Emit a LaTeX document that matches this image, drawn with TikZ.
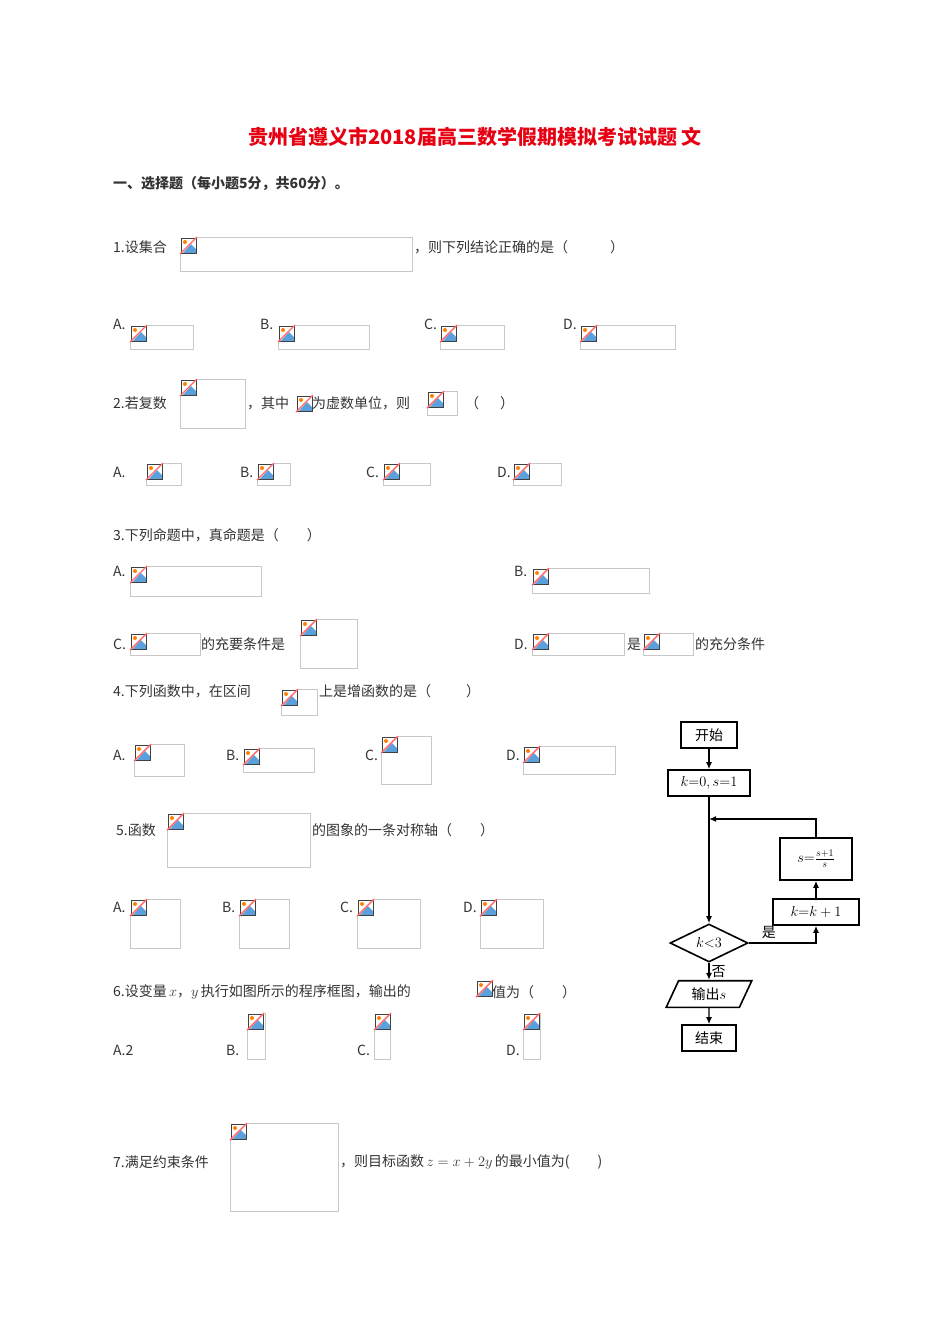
\documentclass[tikz,border=0pt]{standalone}
\usepackage{fontspec}
\setmainfont{Noto Sans CJK SC}
\usetikzlibrary{shapes.geometric,arrows.meta}
\definecolor{tred}{RGB}{230,0,18}
\definecolor{fr}{RGB}{200,200,200}
\definecolor{ib}{RGB}{90,160,220}
\newcommand{\icon}[2]{%
 \fill[white] (#1,#2) rectangle ++(17,17);
 \fill[ib] (#1+3,#2+16) -- (#1+11,#2+7) -- (#1+16,#2+12) -- (#1+16,#2+16) -- cycle;
 \fill[orange] (#1+5,#2+5) circle (2);
 \draw[black!75,line width=1] (#1+1,#2+1) rectangle ++(15,15);
 \draw[red!60,line width=1.4] (#1,#2+17) -- (#1+17,#2);}
\newcommand{\img}[4]{\draw[fr,line width=0.8] (#1,#2) rectangle (#3,#4); \icon{#1}{#2}}
\begin{document}
\begin{tikzpicture}[x=1pt,y=-1pt,
 t/.style={anchor=west,inner sep=0,font=\fontsize{14}{14}\selectfont,text=black!80},
 fb/.style={draw,line width=1.6,minimum height=26,inner sep=3,font=\fontsize{14}{14}\selectfont},
 ar/.style={line width=1.4,-{Latex[length=7,width=6]}}]
\useasboundingbox (0,0) rectangle (950,1344);
\node[font=\fontsize{20}{20}\selectfont\bfseries,text=tred] (title) at (475,137) {贵州省遵义市2018届高三数学假期模拟考试试题\ 文};
\node[t,font=\fontsize{14}{14}\selectfont\bfseries] (sec) at (113,184) {一、选择题（每小题5分，共60分）。};
% Q1
\node[t] (q1) at (113,247) {1.设集合};
\img{180}{237}{412}{271}
\node[t] (q1b) at (414,247) {，则下列结论正确的是（\hspace{3em}）};
\node[t] (q1A) at (113,324) {A.}; \img{130}{325}{193}{349}
\node[t] (q1B) at (260,324) {B.}; \img{278}{325}{369}{349}
\node[t] (q1C) at (424,324) {C.}; \img{440}{325}{504}{349}
\node[t] (q1D) at (563,324) {D.}; \img{580}{325}{675}{349}
% Q2
\node[t] (q2) at (113,403) {2.若复数};
\img{180}{379}{245}{428}
\node[t] (q2b) at (247,403) {，其中};
\icon{296}{395}
\node[t] (q2c) at (312,403) {为虚数单位，则};
\img{427}{391}{457}{415}
\node[t] (q2d) at (465,403) {（\hspace{1.5em}）};
\node[t] (q2A) at (113,472) {A.}; \img{146}{463}{181}{485}
\node[t] (q2B) at (240,472) {B.}; \img{257}{463}{290}{485}
\node[t] (q2C) at (366,472) {C.}; \img{383}{463}{430}{485}
\node[t] (q2D) at (497,472) {D.}; \img{513}{463}{561}{485}
% Q3
\node[t] (q3) at (113,535) {3.下列命题中，真命题是（\hspace{2em}）};
\node[t] (q3A) at (113,571) {A.}; \img{130}{566}{261}{596}
\node[t] (q3B) at (514,571) {B.}; \img{532}{568}{649}{593}
\node[t] (q3C) at (113,644) {C.}; \img{130}{633}{200}{655}
\node[t] (q3Cb) at (201,644) {的充要条件是}; \img{300}{619}{357}{668}
\node[t] (q3D) at (514,644) {D.}; \img{532}{633}{624}{655}
\node[t] (q3Db) at (627,644) {是}; \img{643}{633}{693}{655}
\node[t] (q3Dc) at (695,644) {的充分条件};
% Q4
\node[t] (q4) at (113,691) {4.下列函数中，在区间};
\img{281}{689}{317}{715}
\node[t] (q4b) at (319,691) {上是增函数的是（\hspace{2.5em}）};
\node[t] (q4A) at (113,755) {A.}; \img{134}{744}{184}{776}
\node[t] (q4B) at (226,755) {B.}; \img{243}{748}{314}{772}
\node[t] (q4C) at (365,755) {C.}; \img{381}{736}{431}{784}
\node[t] (q4D) at (506,755) {D.}; \img{523}{746}{615}{774}
% Q5
\node[t] (q5) at (116,830) {5.函数};
\img{167}{813}{310}{867}
\node[t] (q5b) at (312,830) {的图象的一条对称轴（\hspace{2em}）};
\node[t] (q5A) at (113,907) {A.}; \img{130}{899}{180}{948}
\node[t] (q5B) at (222,907) {B.}; \img{239}{899}{289}{948}
\node[t] (q5C) at (340,907) {C.}; \img{357}{899}{420}{948}
\node[t] (q5D) at (463,907) {D.}; \img{480}{899}{543}{948}
% Q6
\node[t] (q6) at (113,992) {6.设变量\,$x$，$y$\,执行如图所示的程序框图，输出的};
\icon{476}{980}
\node[t] (q6b) at (492,992) {值为（\hspace{2em}）};
\node[t] (q6A) at (113,1050) {A.2};
\node[t] (q6B) at (226,1050) {B.}; \img{247}{1013}{265}{1059}
\node[t] (q6C) at (357,1050) {C.}; \img{374}{1013}{390}{1059}
\node[t] (q6D) at (506,1050) {D.}; \img{523}{1013}{540}{1059}
% Q7
\node[t] (q7) at (113,1162) {7.满足约束条件};
\img{230}{1123}{338}{1211}
\node[t] (q7b) at (340,1162) {，则目标函数\,$z=x+2y$\,的最小值为(\hspace{2em})};
% flowchart
\node[fb,minimum width=56] (st) at (709,735) {开始};
\node[fb,minimum width=82] (init) at (709,783) {$k{=}0,s{=}1$};
\node[fb,minimum width=72,minimum height=42] (upd) at (816,859) {$s{=}\frac{s+1}{s}$};
\node[fb,minimum width=86] (inc) at (816,912) {$k{=}k+1$};
\node[draw,diamond,aspect=2.1,line width=1.6,inner sep=1,minimum width=78,minimum height=38,font=\fontsize{14}{14}\selectfont] (dec) at (709,943) {$k{<}3$};
\node[draw,trapezium,trapezium left angle=65,trapezium right angle=115,line width=1.6,minimum width=86,minimum height=26,inner sep=2,font=\fontsize{14}{14}\selectfont] (out) at (709,994) {输出$s$};
\node[fb,minimum width=54] (end) at (709,1038) {结束};
\coordinate (j) at (709,819);
\draw[ar] (st) -- (init);
\draw[line width=1.4] (init) -- (j);
\draw[ar] (j) -- (dec);
\draw[ar] (dec.east) -| node[pos=0.15,above,font=\fontsize{14}{14}\selectfont]{是} (inc.south);
\draw[ar] (inc) -- (upd);
\draw[ar] (upd.north) |- (j);
\draw[ar] (dec) -- node[right,font=\fontsize{14}{14}\selectfont,inner sep=2]{否} (out);
\draw[ar] (out) -- (end);
\end{tikzpicture}
\end{document}
